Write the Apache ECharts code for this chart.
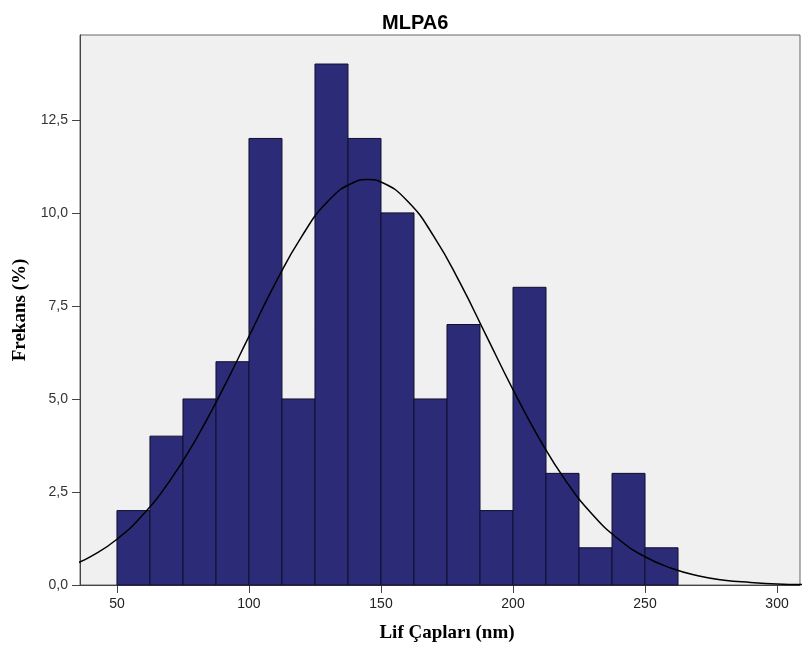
<!DOCTYPE html>
<html><head><meta charset="utf-8">
<script src="https://cdn.jsdelivr.net/npm/echarts@6/dist/echarts.min.js"></script>
<style>html,body{margin:0;padding:0;background:#fff}#c{width:803px;height:650px}</style>
</head><body><div id="c"></div>
<script>
const title = 'MLPA6';
const xTitle = 'Lif Çapları (nm)';
const yTitle = 'Frekans (%)';
const binStarts = [50, 62.5, 75, 87.5, 100, 112.5, 125, 137.5, 150, 162.5, 175, 187.5, 200, 212.5, 225, 237.5, 250];
const binWidth = 12.5;
const frequencies = [2, 4, 5, 6, 12, 5, 14, 12, 10, 5, 7, 2, 8, 3, 1, 3, 1];
const curveX = [35, 40, 50, 60, 70, 80, 90, 100, 110, 120, 130, 140, 145, 150, 160, 170, 180, 190, 200, 210, 220, 230, 240, 250, 260, 270, 280, 290, 300, 310];
const curveY = [0.59, 0.76, 1.23, 1.90, 2.80, 3.93, 5.25, 6.68, 8.11, 9.37, 10.32, 10.83, 10.9, 10.83, 10.32, 9.37, 8.11, 6.68, 5.25, 3.93, 2.80, 1.90, 1.23, 0.76, 0.45, 0.25, 0.13, 0.07, 0.03, 0.015];
const xTicks = [50, 100, 150, 200, 250, 300];

const chart = echarts.init(document.getElementById('c'));
const barData = binStarts.map((s, i) => [s, s + binWidth, frequencies[i]]);
const lineData = curveX.map((x, i) => [x, curveY[i]]);
chart.setOption({
  animation: false,
  backgroundColor: '#ffffff',
  title: {
    text: title, left: 377, top: 8,
    textStyle: {fontFamily: 'Liberation Sans', fontWeight: 'bold', fontSize: 20, color: '#000'}
  },
  grid: {left: 80, right: 3, top: 35, bottom: 65, outerBoundsMode: 'none', containLabel: false,
    show: true, backgroundColor: '#f0f0f0', borderColor: '#666', borderWidth: 1},
  xAxis: {
    type: 'value', min: 36, max: 308.7,
    name: xTitle, nameLocation: 'middle', nameGap: 39,
    nameTextStyle: {fontFamily: 'Liberation Serif', fontWeight: 'bold', fontSize: 19, color: '#000', padding: [0, 0, 0, 14]},
    axisLine: {show: true, lineStyle: {color: '#444'}},
    axisTick: {show: true, customValues: xTicks, length: 8, lineStyle: {color: '#444'}},
    axisLabel: {customValues: xTicks, fontFamily: 'Liberation Sans', fontSize: 14, color: '#222', margin: 12},
    splitLine: {show: false}
  },
  yAxis: {
    type: 'value', min: 0, max: 14.78, interval: 2.5,
    name: yTitle, nameLocation: 'middle', nameGap: 50, nameRotate: 90,
    nameTextStyle: {fontFamily: 'Liberation Serif', fontWeight: 'bold', fontSize: 19, color: '#000'},
    axisLine: {show: true, lineStyle: {color: '#444'}},
    axisTick: {show: true, length: 8, lineStyle: {color: '#444'}},
    axisLabel: {fontFamily: 'Liberation Sans', fontSize: 14, color: '#333', margin: 12,
      formatter: v => v.toFixed(1).replace('.', ','),
      showMaxLabel: false},
    splitLine: {show: false}
  },
  series: [
    {
      type: 'custom',
      data: barData,
      encode: {x: [0, 1], y: 2},
      renderItem: (params, api) => {
        const p0 = api.coord([api.value(0), 0]);
        const p1 = api.coord([api.value(1), api.value(2)]);
        return {
          type: 'rect',
          shape: {x: p0[0], y: p1[1], width: p1[0] - p0[0], height: p0[1] - p1[1]},
          style: {fill: '#2b2b78', stroke: '#101030', lineWidth: 1}
        };
      },
      z: 2
    },
    {
      type: 'line', data: lineData, smooth: true, showSymbol: false, symbol: 'none',
      lineStyle: {color: '#000', width: 1.5}, z: 3, clip: true
    }
  ]
});
</script></body></html>
